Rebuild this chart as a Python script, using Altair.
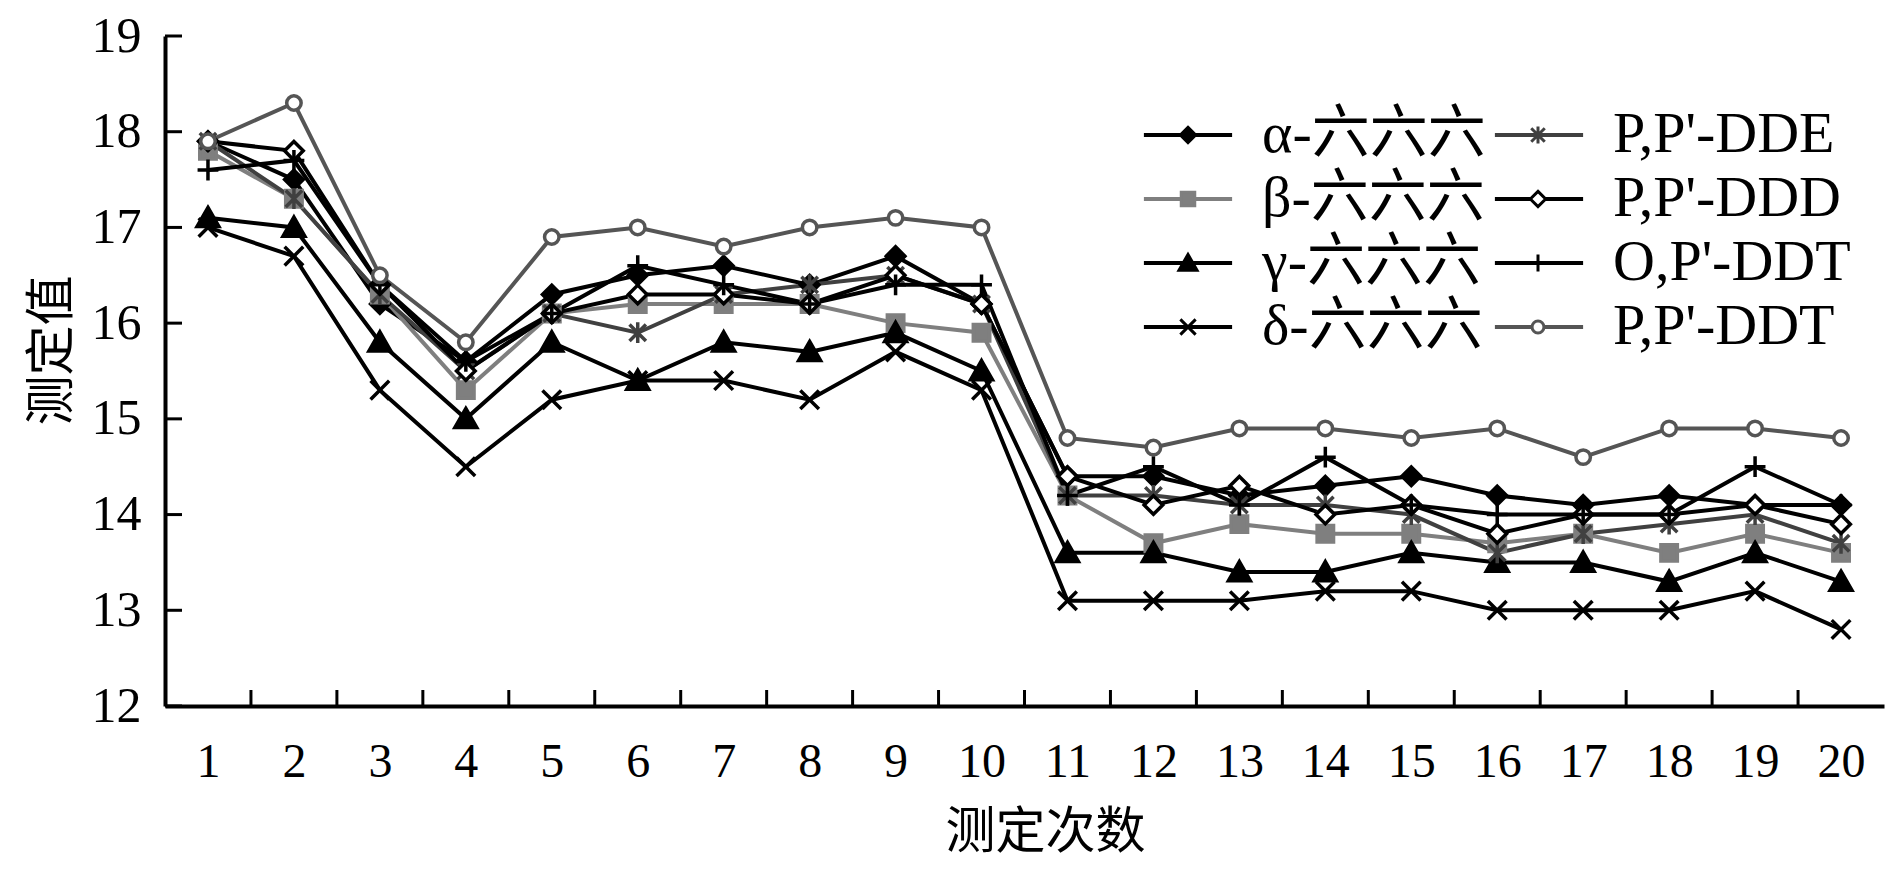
import altair as alt
import pandas as pd

# ---------------- data ----------------
runs = list(range(1, 21))
series_names = ["α-六六六", "β-六六六", "γ-六六六", "δ-六六六",
                "P,P'-DDE", "P,P'-DDD", "O,P'-DDT", "P,P'-DDT"]

alpha = [17.9, 17.5, 16.2, 15.6, 16.3, 16.5, 16.6, 16.4, 16.7, 16.2,
         14.4, 14.4, 14.2, 14.3, 14.4, 14.2, 14.1, 14.2, 14.1, 14.1]
beta = [17.8, 17.3, 16.3, 15.3, 16.1, 16.2, 16.2, 16.2, 16.0, 15.9,
        14.2, 13.7, 13.9, 13.8, 13.8, 13.7, 13.8, 13.6, 13.8, 13.6]
gamma = [17.1, 17.0, 15.8, 15.0, 15.8, 15.4, 15.8, 15.7, 15.9, 15.5,
         13.6, 13.6, 13.4, 13.4, 13.6, 13.5, 13.5, 13.3, 13.6, 13.3]
delta = [17.0, 16.7, 15.3, 14.5, 15.2, 15.4, 15.4, 15.2, 15.7, 15.3,
         13.1, 13.1, 13.1, 13.2, 13.2, 13.0, 13.0, 13.0, 13.2, 12.8]
pp_dde = [17.9, 17.3, 16.3, 15.5, 16.1, 15.9, 16.3, 16.4, 16.5, 16.2,
          14.2, 14.2, 14.1, 14.1, 14.0, 13.6, 13.8, 13.9, 14.0, 13.7]
pp_ddd = [17.9, 17.8, 16.4, 15.5, 16.1, 16.3, 16.3, 16.2, 16.5, 16.2,
          14.4, 14.1, 14.3, 14.0, 14.1, 13.8, 14.0, 14.0, 14.1, 13.9]
op_ddt = [17.6, 17.7, 16.4, 15.6, 16.1, 16.6, 16.4, 16.2, 16.4, 16.4,
          14.2, 14.5, 14.1, 14.6, 14.1, 14.0, 14.0, 14.0, 14.5, 14.1]
pp_ddt = [17.9, 18.3, 16.5, 15.8, 16.9, 17.0, 16.8, 17.0, 17.1, 17.0,
          14.8, 14.7, 14.9, 14.9, 14.8, 14.9, 14.6, 14.9, 14.9, 14.8]

y_ticks = [12, 13, 14, 15, 16, 17, 18, 19]
x_tick_marks = [1.5, 2.5, 3.5, 4.5, 5.5, 6.5, 7.5, 8.5, 9.5, 10.5,
                11.5, 12.5, 13.5, 14.5, 15.5, 16.5, 17.5, 18.5, 19.5]

all_values = [alpha, beta, gamma, delta, pp_dde, pp_ddd, op_ddt, pp_ddt]

# ---------------- styles ----------------
line_color = ["#000000", "#7f7f7f", "#000000", "#000000",
              "#404040", "#000000", "#000000", "#555555"]
fill_color = ["#000000", "#7f7f7f", "#000000", "transparent",
              "transparent", "#ffffff", "transparent", "#ffffff"]
shapes = [
    "M0,-0.85L0.85,0L0,0.85L-0.85,0Z",                      # filled diamond
    "M-0.75,-0.75H0.75V0.75H-0.75Z",                        # square
    "M0,-0.95L1,0.8L-1,0.8Z",                               # triangle
    "M-0.85,-0.85L0.85,0.85M-0.85,0.85L0.85,-0.85",         # x
    "M-0.75,-0.75L0.75,0.75M-0.75,0.75L0.75,-0.75M0,-0.95L0,0.95",  # asterisk
    "M0,-0.85L0.85,0L0,0.85L-0.85,0Z",                      # open diamond
    "M-0.95,0H0.95M0,-0.95V0.95",                           # plus
    "M0.66,0A0.66,0.66,0,1,1,-0.66,0A0.66,0.66,0,1,1,0.66,0",  # open circle
]

# the marker legend gets its own domain (names + zero-width mark) so that it
# stays separate from the line legend drawn under it
ZW = "\u200b"
marker_names = [s + ZW for s in series_names]

rows = []
for name, mname, vals in zip(series_names, marker_names, all_values):
    for r, v in zip(runs, vals):
        rows.append({"run": r, "value": v, "series": name, "marker": mname})
df = pd.DataFrame(rows)

W, H = 1719, 670
LATIN = "'Liberation Serif', 'Times New Roman', 'DejaVu Serif', serif, 'Noto Sans CJK SC'"
CJK = "'Noto Sans CJK SC'"

x_scale = alt.Scale(domain=[0.5, 20.5], nice=False, zero=False)
y_scale = alt.Scale(domain=[12, 19], nice=False, zero=False)

legend_common = dict(
    orient="none", legendX=994, legendY=70, columns=2,
    rowPadding=6, padding=0, symbolSize=324, labelOffset=45, labelLimit=500,
    labelFont=LATIN, labelFontSize=58, labelColor="black", title=None,
)

x_axis = alt.Axis(
    values=runs, format="d", grid=False, ticks=False, tickSize=0,
    domainColor="black", domainWidth=4, labelFont=LATIN, labelFontSize=48,
    labelColor="black", labelPadding=56, labelBaseline="middle", labelFlush=False,
    title="测定次数", titleFont=CJK, titleFontSize=50, titleFontWeight="normal",
    titleColor="black", titleX=880, titleY=126, titleBaseline="middle",
    titleAlign="center",
)
y_axis = alt.Axis(
    values=y_ticks, format="d", grid=False, ticks=False, tickSize=0,
    domainColor="black", domainWidth=4, labelFont=LATIN, labelFontSize=50,
    labelColor="black", labelPadding=24,
    title="测定值", titleFont=CJK, titleFontSize=50, titleFontWeight="normal",
    titleColor="black", titleX=-113, titleY=314, titleAngle=270,
    titleBaseline="middle", titleAlign="center",
)

lines = alt.Chart(df).mark_line(strokeWidth=4).encode(
    x=alt.X("run:Q", scale=x_scale, axis=x_axis),
    y=alt.Y("value:Q", scale=y_scale, axis=y_axis),
    color=alt.Color(
        "series:N",
        scale=alt.Scale(domain=series_names, range=line_color),
        legend=alt.Legend(symbolType="M-4.9,0H4.9", symbolStrokeWidth=4,
                          columnPadding=0, **legend_common),
    ),
)

pt_legend = alt.Legend(symbolStrokeWidth=3, labelExpr="''", columnPadding=247,
                       **legend_common)
points = alt.Chart(df).mark_point(size=480, strokeWidth=3.5, opacity=1).encode(
    x=alt.X("run:Q", scale=x_scale),
    y=alt.Y("value:Q", scale=y_scale),
    shape=alt.Shape("marker:N", scale=alt.Scale(domain=marker_names, range=shapes),
                    legend=pt_legend),
    fill=alt.Fill("marker:N", scale=alt.Scale(domain=marker_names, range=fill_color),
                  legend=pt_legend),
    stroke=alt.Stroke("marker:N", scale=alt.Scale(domain=marker_names, range=line_color),
                      legend=pt_legend),
)

# inward tick marks, drawn from the tick value lists through the shared scales
ytick_df = pd.DataFrame({"value": y_ticks})
ytick_rules = alt.Chart(ytick_df).mark_rule(color="black", strokeWidth=3).encode(
    y=alt.Y("value:Q", scale=y_scale),
    x=alt.value(0), x2=alt.value(17),
)
xtick_df = pd.DataFrame({"run": x_tick_marks})
xtick_rules = alt.Chart(xtick_df).mark_rule(color="black", strokeWidth=3).encode(
    x=alt.X("run:Q", scale=x_scale),
    y=alt.value(H), y2=alt.value(H - 16),
)

chart = alt.layer(lines, points, ytick_rules, xtick_rules).properties(
    width=W, height=H,
    background="white",
    autosize=alt.AutoSizeParams(type="none"),
    padding={"left": 157, "top": 28, "right": 2, "bottom": 164},
).configure_view(stroke="transparent")

chart.save("out.html", embed_options={"renderer": "svg", "actions": False})
